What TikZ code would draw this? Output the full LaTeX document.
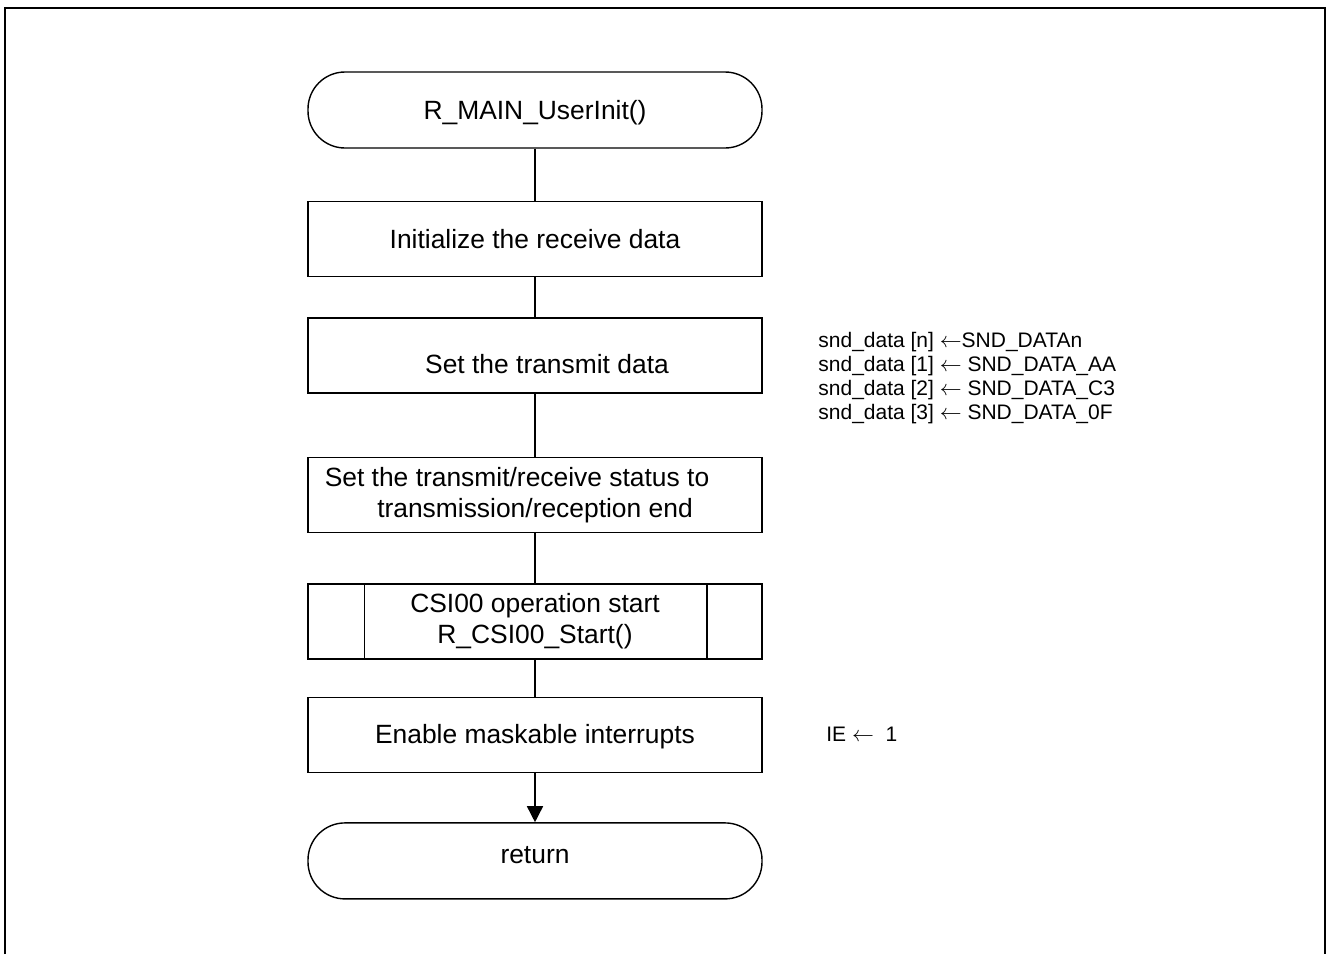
\documentclass[tikz,border=0pt]{standalone}
\usepackage{fontspec}
\setmainfont{Liberation Sans}
\usepackage{tikz}
\usetikzlibrary{positioning, arrows.meta, calc}
\newcommand{\movetext}[2]{\raisebox{#1}[\height][\depth]{#2}}

\begin{document}
\begin{tikzpicture}[x=0.5pt, y=-0.5pt,
    every node/.style={font=\fontsize{13.2pt}{15.5pt}\selectfont},
    terminal/.style={draw, line width=0.7pt, rounded corners=18.5pt, minimum width=227pt, minimum height=38pt, inner sep=0pt},
    procbox/.style={draw, line width=0.75pt, minimum width=227pt, minimum height=37.5pt, inner sep=0pt, align=center},
    note/.style={font=\fontsize{10.5pt}{12pt}\selectfont, align=left, inner sep=0pt, anchor=west}]
    \useasboundingbox (0,0) rectangle (1328,954);
    \draw[line width=1.25pt] (5,954) -- (5,8) -- (1325,8) -- (1325,954);
    \node[terminal] (start) at (535,110) {\movetext{-1.5pt}{R\_MAIN\_UserInit()}};
    \node[procbox, below = 26pt of start] (initrx) {Initialize the receive data};
    \node[procbox, below = 20pt of initrx] (settx) {\movetext{-4.5pt}{\hspace*{12pt}Set the transmit data}};
    \node[procbox, below = 31.5pt of settx] (status) {\hspace*{-18pt}Set the transmit/receive status to\\transmission/reception end};
    \node[procbox, below = 25pt of status] (csistart) {CSI00 operation start\\R\_CSI00\_Start()};
    \draw[line width=0.75pt] ([xshift=28.5pt]csistart.north west) -- ([xshift=28.5pt]csistart.south west);
    \draw[line width=0.75pt] ([xshift=-28pt]csistart.north east) -- ([xshift=-28pt]csistart.south east);
    \node[procbox, below = 18.5pt of csistart] (enint) {\movetext{-1pt}{Enable maskable interrupts}};
    \node[terminal, below = 24.5pt of enint] (ret) {\movetext{3pt}{return}};
    \draw[line width=0.75pt] (start) -- (initrx);
    \draw[line width=0.75pt] (initrx) -- (settx);
    \draw[line width=0.75pt] (settx) -- (status);
    \draw[line width=0.75pt] (status) -- (csistart);
    \draw[line width=0.75pt] (csistart) -- (enint);
    \draw[-{Triangle[length=8pt, width=8pt]}, line width=0.75pt] (enint) -- (ret);
    \node[note] (sndnote) at (818,378) {snd\_data [n] $\leftarrow$SND\_DATAn\\snd\_data [1] $\leftarrow$ SND\_DATA\_AA\\snd\_data [2] $\leftarrow$ SND\_DATA\_C3\\snd\_data [3] $\leftarrow$ SND\_DATA\_0F};
    \node[note] (ienote) at (826,734) {IE $\leftarrow$ \ 1};
\end{tikzpicture}
\end{document}
